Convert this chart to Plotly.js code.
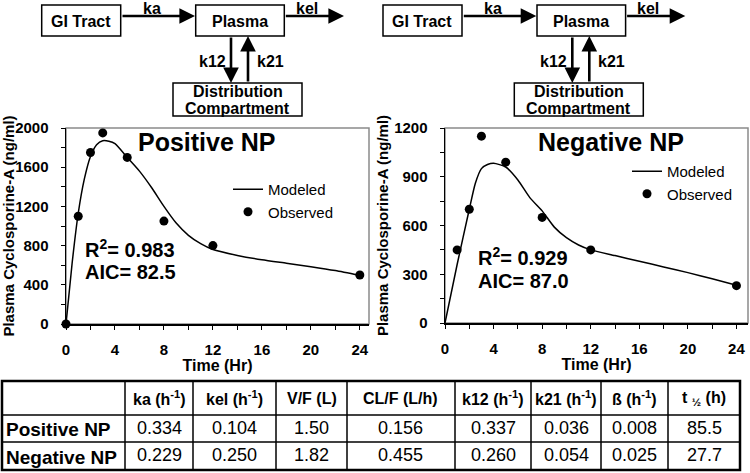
<!DOCTYPE html>
<html>
<head>
<meta charset="utf-8">
<script src="https://cdn.plot.ly/plotly-3.0.1.min.js"></script>
<style>html,body{margin:0;padding:0;background:#fff;}#chart{width:750px;height:473px;}</style>
</head>
<body>
<div id="chart"></div>
<script>
// ---------------- data ----------------
const obsTimePos = [0, 1, 2, 3, 5, 8, 12, 24];
const obsConcPos = [0, 1100, 1750, 1950, 1700, 1050, 800, 500];
const modelTimePos = [0, 0.5, 1, 1.5, 2, 2.5, 3, 3.5, 4, 5, 6, 7, 8, 9, 10, 11, 12, 14, 16, 18, 20, 22, 24];
const modelConcPos = [0, 620, 1130, 1480, 1710, 1830, 1870, 1865, 1840, 1700, 1560, 1390, 1200, 1030, 905, 820, 760, 700, 655, 620, 585, 545, 495];

const obsTimeNeg = [1, 2, 3, 5, 8, 12, 24];
const obsConcNeg = [450, 700, 1150, 990, 650, 450, 230];
const modelTimeNeg = [0, 1, 2, 2.5, 3, 3.5, 4, 5, 6, 7, 8, 9, 10, 11, 12, 14, 16, 18, 20, 22, 24];
const modelConcNeg = [0, 360, 700, 860, 950, 975, 983, 960, 880, 770, 690, 590, 525, 480, 450, 415, 380, 345, 310, 272, 232];

const xTickVals = [0, 4, 8, 12, 16, 20, 24];
const yTickValsPos = [0, 400, 800, 1200, 1600, 2000];
const yTickValsNeg = [0, 300, 600, 900, 1200];

const panelTitles = ['Positive NP', 'Negative NP'];
const fitR2 = ['0.983', '0.929'];
const fitAIC = ['82.5', '87.0'];

const tableRowLabels = ['Positive NP', 'Negative NP'];
const tableHeaders = ['ka (h<sup>-1</sup>)', 'kel (h<sup>-1</sup>)', 'V/F (L)', 'CL/F (L/h)', 'k12 (h<sup>-1</sup>)', 'k21 (h<sup>-1</sup>)', 'ß (h<sup>-1</sup>)', 't <sub>½</sub> (h)'];
const paramsPositive = ['0.334', '0.104', '1.50', '0.156', '0.337', '0.036', '0.008', '85.5'];
const paramsNegative = ['0.229', '0.250', '1.82', '0.455', '0.260', '0.054', '0.025', '27.7'];

// ---------------- helpers ----------------
const W = 750, H = 473;
const FAM = 'Arial, "Liberation Sans", sans-serif';
const px = x => x / W;
const py = y => 1 - y / H;

// ---------------- traces ----------------
const lineStyle = {color: '#000', width: 1.5, shape: 'spline', smoothing: 0.6};
const markStyle = {color: '#000', size: 9};
const traces = [
  {x: modelTimePos, y: modelConcPos, type: 'scatter', mode: 'lines', line: lineStyle, name: 'Modeled',
   xaxis: 'x', yaxis: 'y', legend: 'legend', cliponaxis: false},
  {x: obsTimePos, y: obsConcPos, type: 'scatter', mode: 'markers', marker: markStyle, name: 'Observed',
   xaxis: 'x', yaxis: 'y', legend: 'legend', cliponaxis: false},
  {x: modelTimeNeg, y: modelConcNeg, type: 'scatter', mode: 'lines', line: lineStyle, name: 'Modeled',
   xaxis: 'x2', yaxis: 'y2', legend: 'legend2', cliponaxis: false},
  {x: obsTimeNeg, y: obsConcNeg, type: 'scatter', mode: 'markers', marker: markStyle, name: 'Observed',
   xaxis: 'x2', yaxis: 'y2', legend: 'legend2', cliponaxis: false}
];

// ---------------- axes ----------------
const tickFont = {family: FAM, size: 15, color: '#000', weight: 'bold'};
const titleFont = {family: FAM, size: 16, color: '#000', weight: 'bold'};
const yTitleFont = {family: FAM, size: 15, color: '#000', weight: 'bold'};
function mainX(domain, range, anchor) {
  return {domain: domain, range: range, anchor: anchor, tickmode: 'array', tickvals: xTickVals, ticks: 'outside', ticklen: 4,
    tickwidth: 1, tickcolor: '#000', showline: true, linecolor: '#000', linewidth: 1.5, showgrid: false,
    zeroline: false, tickfont: tickFont, ticklabelstandoff: 7, fixedrange: true,
    minor: {dtick: 2, tick0: 0, ticks: 'outside', ticklen: 4, tickcolor: '#000', tickwidth: 1},
    title: {text: 'Time (Hr)', font: titleFont, standoff: 0}};
}
function mainY(domain, range, vals, minorStep, anchor) {
  return {domain: domain, range: range, anchor: anchor, tickmode: 'array', tickvals: vals, ticks: 'outside', ticklen: 4,
    tickwidth: 1, tickcolor: '#000', showline: true, linecolor: '#000', linewidth: 1.5, showgrid: false,
    zeroline: false, tickfont: tickFont, ticklabelstandoff: 9, fixedrange: true,
    minor: {dtick: minorStep, tick0: 0, ticks: 'outside', ticklen: 4, tickcolor: '#000', tickwidth: 1},
    title: {text: 'Plasma Cyclosporine-A (ng/ml)', font: yTitleFont, standoff: 2}};
}
function innerX(over, anchor, range) {
  return {overlaying: over, anchor: anchor, side: 'bottom', range: range, tickmode: 'array', tickvals: xTickVals,
    ticks: 'inside', ticklen: 4, tickcolor: '#000', tickwidth: 1, showticklabels: false, showline: false,
    showgrid: false, zeroline: false, fixedrange: true,
    minor: {dtick: 2, tick0: 0, ticks: 'inside', ticklen: 4, tickcolor: '#000', tickwidth: 1}};
}
function innerY(over, anchor, range, vals, minorStep) {
  return {overlaying: over, anchor: anchor, side: 'left', range: range, tickmode: 'array', tickvals: vals,
    ticks: 'inside', ticklen: 4, tickcolor: '#000', tickwidth: 1, showticklabels: false, showline: false,
    showgrid: false, zeroline: false, fixedrange: true,
    minor: {dtick: minorStep, tick0: 0, ticks: 'inside', ticklen: 4, tickcolor: '#000', tickwidth: 1}};
}
const yDomPos = [py(324), py(128)];
const yDomNeg = [py(323), py(128)];
const rangeXPos = [0, 24.75], rangeXNeg = [0, 24.95];
const rangeYPos = [0, 2000], rangeYNeg = [0, 1200];

// ---------------- diagram (decoration) ----------------
const shapes = [];
const annotations = [];
const boxLine = {color: '#000', width: 1.5};
const diagFont = {family: FAM, size: 16, color: '#000', weight: 'bold'};
function txt(x, y, t, f, xa) {
  annotations.push({xref: 'paper', yref: 'paper', x: px(x), y: py(y), text: t, showarrow: false,
    xanchor: xa || 'center', yanchor: 'middle', font: f || diagFont});
}
function rect(x0, y0, x1, y1, line) {
  shapes.push({type: 'rect', xref: 'paper', yref: 'paper', x0: px(x0), x1: px(x1), y0: py(y0), y1: py(y1),
    line: line || boxLine, fillcolor: 'rgba(0,0,0,0)'});
}
function seg(x0, y0, x1, y1, w) {
  shapes.push({type: 'line', xref: 'paper', yref: 'paper', x0: px(x0), x1: px(x1), y0: py(y0), y1: py(y1),
    line: {color: '#000', width: w}});
}
function arrow(tx, ty, hx, hy) {
  annotations.push({xref: 'paper', yref: 'paper', x: px(hx), y: py(hy), ax: tx - hx, ay: ty - hy, text: '',
    showarrow: true, arrowhead: 2, arrowsize: 1.2, arrowwidth: 2.6, arrowcolor: '#000', standoff: 0, startstandoff: 0});
}
[0, 341.3].forEach(dx => {
  rect(41.7 + dx, 5, 120.7 + dx, 36);
  rect(195.7 + dx, 5, 284.3 + dx, 36);
  rect(173 + dx, 83, 302 + dx, 116);
  txt(81 + dx, 21, 'GI Tract');
  txt(240 + dx, 21, 'Plasma');
  txt(237.5 + dx, 91.5, 'Distribution');
  txt(237.5 + dx, 108, 'Compartment');
  txt(152 + dx, 9, 'ka');
  txt(307 + dx, 9, 'kel');
  txt(212 + dx, 61, 'k12');
  txt(270 + dx, 61, 'k21');
  arrow(121 + dx, 16, 195 + dx, 16);
  arrow(284.3 + dx, 16, 344 + dx, 16);
  arrow(231 + dx, 36, 231 + dx, 83);
  arrow(248 + dx, 83, 248 + dx, 36);
});

// panel text
const bigFont = {family: FAM, size: 25, color: '#000', weight: 'bold'};
const fitFont = {family: FAM, size: 20, color: '#000', weight: 'bold'};
txt(207, 142, panelTitles[0], bigFont);
txt(611, 142, panelTitles[1], bigFont);
txt(83, 249, 'R<sup>2</sup>= ' + fitR2[0], fitFont, 'left');
txt(83, 272, 'AIC= ' + fitAIC[0], fitFont, 'left');
txt(476, 256, 'R<sup>2</sup>= ' + fitR2[1], fitFont, 'left');
txt(476, 281, 'AIC= ' + fitAIC[1], fitFont, 'left');

// grey plot frames
['', '2'].forEach(s => {
  shapes.push({type: 'rect', xref: 'x' + s + ' domain', yref: 'y' + s + ' domain', x0: 0, x1: 1, y0: 0, y1: 1,
    line: {color: '#8a8a8a', width: 1.5}, layer: 'below'});
});

// ---------------- parameter table (grid + text) ----------------
const colEdges = [2, 125, 193, 276, 347, 455, 531, 601, 668, 740];
const rowEdges = [381, 415, 442, 470];
const headFont = {family: FAM, size: 16, color: '#000', weight: 'bold'};
const labelFont = {family: FAM, size: 19, color: '#000', weight: 'bold'};
const valFont = {family: FAM, size: 18, color: '#000'};
for (let i = 1; i < colEdges.length - 1; i++) seg(colEdges[i], rowEdges[0], colEdges[i], rowEdges[3], 1.5);
for (let j = 1; j < rowEdges.length - 1; j++) seg(colEdges[0], rowEdges[j], colEdges[colEdges.length - 1], rowEdges[j], 1.5);
rect(colEdges[0], rowEdges[0], colEdges[colEdges.length - 1], rowEdges[3], {color: '#000', width: 2.5});
const colMid = i => (colEdges[i] + colEdges[i + 1]) / 2;
const rowMid = j => (rowEdges[j] + rowEdges[j + 1]) / 2;
tableHeaders.forEach((h, i) => txt(colMid(i + 1), rowMid(0), h, headFont));
tableRowLabels.forEach((r, j) => txt(colEdges[0] + 2, rowMid(j + 1) + 1, r, labelFont, 'left'));
[paramsPositive, paramsNegative].forEach((row, j) => {
  row.forEach((v, i) => txt(colMid(i + 1), rowMid(j + 1) - 1, v, valFont));
});

const legFont = {family: FAM, size: 15, color: '#000'};
const layout = {
  width: W, height: H, margin: {l: 0, r: 0, t: 0, b: 0}, paper_bgcolor: '#fff', plot_bgcolor: '#fff',
  font: {family: FAM, color: '#000'},
  xaxis: mainX([px(66), px(369)], rangeXPos, 'y'),
  yaxis: mainY(yDomPos, rangeYPos, yTickValsPos, 200, 'x'),
  xaxis2: mainX([px(445), px(748)], rangeXNeg, 'y2'),
  yaxis2: mainY(yDomNeg, rangeYNeg, yTickValsNeg, 150, 'x2'),
  xaxis3: innerX('x', 'y', rangeXPos),
  yaxis3: innerY('y', 'x', rangeYPos, yTickValsPos, 200),
  xaxis4: innerX('x2', 'y2', rangeXNeg),
  yaxis4: innerY('y2', 'x2', rangeYNeg, yTickValsNeg, 150),
  legend: {x: px(228), y: py(173), xanchor: 'left', yanchor: 'top', bgcolor: 'rgba(0,0,0,0)', font: legFont,
    borderwidth: 0},
  legend2: {x: px(627), y: py(155), xanchor: 'left', yanchor: 'top', bgcolor: 'rgba(0,0,0,0)', font: legFont,
    borderwidth: 0},
  shapes: shapes, annotations: annotations, showlegend: true
};
Plotly.newPlot('chart', traces, layout, {staticPlot: true, displayModeBar: false});
</script>
</body>
</html>
